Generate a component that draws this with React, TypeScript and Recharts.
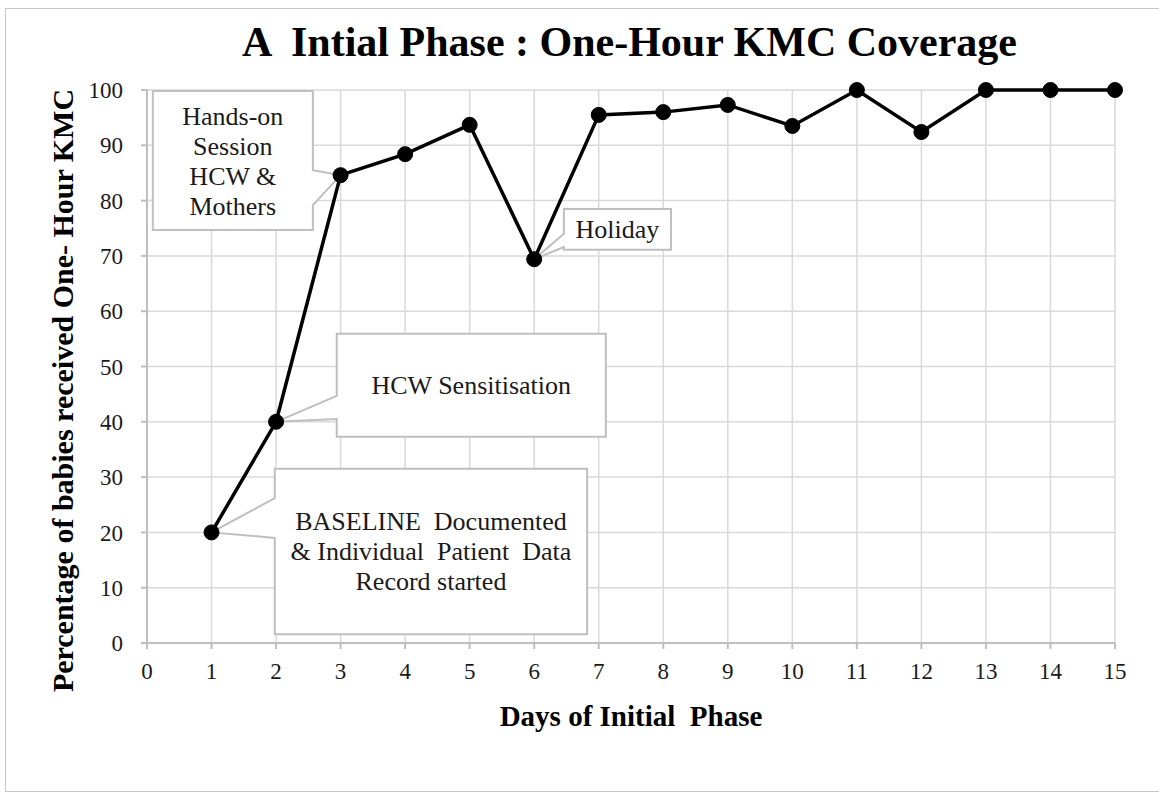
import { LineChart, Line, XAxis, YAxis, CartesianGrid, ReferenceArea, Label } from "recharts";

// ── data ──────────────────────────────────────────────────────────────────────
const days = [1, 2, 3, 4, 5, 6, 7, 8, 9, 10, 11, 12, 13, 14, 15];
const coverage = [20, 40, 84.6, 88.4, 93.7, 69.4, 95.5, 96.0, 97.3, 93.5, 100, 92.4, 100, 100, 100];
const xTicks = [0, 1, 2, 3, 4, 5, 6, 7, 8, 9, 10, 11, 12, 13, 14, 15];
const yTicks = [0, 10, 20, 30, 40, 50, 60, 70, 80, 90, 100];

const chartData = days.map((day, i) => ({ day, pct: coverage[i] }));

// callout boxes, in data units; wedge = where the pointer leaves the box edge
type Callout = {
  lines: string[];
  x1: number; x2: number; y1: number; y2: number;
  side: "left" | "right";
  w1: number; w2: number;
  target: number;
};

const callouts: Callout[] = [
  { lines: ["Hands-on", "Session", "HCW &", "Mothers"], x1: 0.09, x2: 2.57, y1: 74.7, y2: 99.8, side: "right", w1: 85.5, w2: 79.2, target: 2 },
  { lines: ["HCW Sensitisation"], x1: 2.94, x2: 7.11, y1: 37.3, y2: 55.9, side: "left", w1: 44.7, w2: 40.5, target: 1 },
  { lines: ["BASELINE  Documented", "& Individual  Patient  Data", "Record started"], x1: 1.98, x2: 6.82, y1: 1.6, y2: 31.5, side: "left", w1: 26.2, w2: 19.0, target: 0 },
  { lines: ["Holiday"], x1: 6.46, x2: 8.12, y1: 71.1, y2: 78.5, side: "left", w1: 74.0, w2: 71.6, target: 5 },
];

const SERIF = "'Liberation Serif', 'Times New Roman', serif";
const GRID = "#d9d9d9";
const AXIS = "#bfbfbf";

function calloutShape(c: Callout) {
  return (props: any) => {
    const { x, y, width, height } = props;
    const kx = width / (c.x2 - c.x1);
    const ky = height / (c.y2 - c.y1);
    const py = (v: number) => y + (c.y2 - v) * ky;
    const tx = x + (days[c.target] - c.x1) * kx;
    const ty = py(coverage[c.target]);
    const l = x, r = x + width, t = y, b = y + height;
    const a = py(c.w1), d = py(c.w2);
    const path =
      c.side === "right"
        ? `M${l},${t} L${r},${t} L${r},${a} L${tx},${ty} L${r},${d} L${r},${b} L${l},${b} Z`
        : `M${l},${t} L${r},${t} L${r},${b} L${l},${b} L${l},${d} L${tx},${ty} L${l},${a} Z`;
    const lh = 30;
    const cx = x + width / 2;
    const cy = y + height / 2 - ((c.lines.length - 1) * lh) / 2;
    return (
      <g>
        <path d={path} fill="#fff" stroke={AXIS} strokeWidth={2} />
        <text
          x={cx}
          y={cy}
          textAnchor="middle"
          dominantBaseline="central"
          fill="#1a1a1a"
          style={{ whiteSpace: "pre", fontFamily: SERIF, fontSize: 26 }}
        >
          {c.lines.map((ln, i) => (
            <tspan key={i} x={cx} dy={i === 0 ? 0 : lh}>
              {ln}
            </tspan>
          ))}
        </text>
      </g>
    );
  };
}

export default function App() {
  return (
    <div style={{ position: "absolute", left: 0, top: 0, width: 1159, height: 795, background: "#fff" }}>
      {/* outer frame */}
      <div
        style={{
          position: "absolute",
          left: 5,
          top: 8,
          width: 1160,
          height: 784,
          border: "1.5px solid #c8c8c8",
          boxSizing: "border-box",
        }}
      />
      {/* title */}
      <div
        style={{
          position: "absolute",
          left: 0,
          top: 17,
          width: 1259,
          textAlign: "center",
          fontFamily: SERIF,
          fontWeight: "bold",
          fontSize: 42,
          color: "#000",
          whiteSpace: "pre",
          lineHeight: "50px",
        }}
      >
        A  Intial Phase : One-Hour KMC Coverage
      </div>
      <div style={{ position: "absolute", left: 0, top: 0 }}>
        <LineChart width={1159} height={795} data={chartData} margin={{ top: 90, right: 44, left: 20, bottom: 60 }}>
          <CartesianGrid stroke={GRID} strokeWidth={1.5} />
          <XAxis
            type="number"
            dataKey="day"
            domain={[0, 15]}
            ticks={xTicks}
            interval={0}
            height={92}
            tickSize={6}
            tickMargin={14}
            axisLine={{ stroke: AXIS, strokeWidth: 2 }}
            tickLine={{ stroke: AXIS, strokeWidth: 2 }}
            tick={{ fill: "#1a1a1a", fontSize: 23, fontFamily: SERIF }}
          >
            <Label
              content={(p: any) => {
                const vb = p.viewBox;
                return (
                  <text
                    x={vb.x + vb.width / 2}
                    y={vb.y + 73}
                    textAnchor="middle"
                    dominantBaseline="central"
                    fill="#000"
                    style={{ whiteSpace: "pre", fontFamily: SERIF, fontWeight: "bold", fontSize: 29 }}
                  >
                    Days of Initial  Phase
                  </text>
                );
              }}
            />
          </XAxis>
          <YAxis
            type="number"
            domain={[0, 100]}
            ticks={yTicks}
            interval={0}
            width={127}
            tickSize={6}
            tickMargin={18}
            axisLine={{ stroke: AXIS, strokeWidth: 2 }}
            tickLine={{ stroke: AXIS, strokeWidth: 2 }}
            tick={{ fill: "#1a1a1a", fontSize: 23, fontFamily: SERIF }}
          >
            <Label
              content={(p: any) => {
                const vb = p.viewBox;
                const cx = vb.x + 42;
                const cy = vb.y + vb.height / 2 + 24;
                return (
                  <text
                    x={cx}
                    y={cy}
                    transform={`rotate(-90 ${cx} ${cy})`}
                    textAnchor="middle"
                    dominantBaseline="central"
                    fill="#000"
                    style={{ fontFamily: SERIF, fontWeight: "bold", fontSize: 30 }}
                  >
                    Percentage of babies received One- Hour KMC
                  </text>
                );
              }}
            />
          </YAxis>
          {callouts.map((c, i) => (
            <ReferenceArea
              key={i}
              x1={c.x1}
              x2={c.x2}
              y1={c.y1}
              y2={c.y2}
              ifOverflow="visible"
              shape={calloutShape(c)}
            />
          ))}
          <Line
            type="linear"
            dataKey="pct"
            stroke="#000"
            strokeWidth={3.5}
            dot={{ r: 7.5, fill: "#000", stroke: "#000", strokeWidth: 1 }}
            activeDot={false}
            isAnimationActive={false}
          />
        </LineChart>
      </div>
    </div>
  );
}
